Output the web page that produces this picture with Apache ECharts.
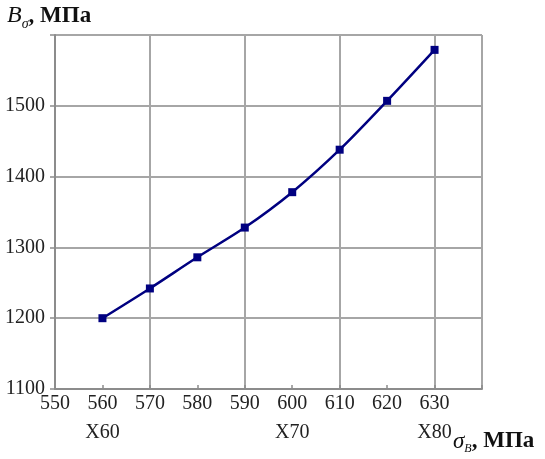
<!DOCTYPE html>
<html><head><meta charset="utf-8">
<script src="https://cdn.jsdelivr.net/npm/echarts@6/dist/echarts.min.js"></script>
<style>html,body{margin:0;padding:0;background:#fff}#c{width:545px;height:459px}</style>
</head><body><div id="c"></div>
<script>
const xValues = [560, 570, 580, 590, 600, 610, 620, 630];
const yValues = [1200, 1242, 1286, 1328, 1378, 1438, 1507, 1579];
const gradeLabels = {560: 'X60', 600: 'X70', 630: 'X80'};
const xMin = 550, xMax = 640, yMin = 1100, yMax = 1600;

const chart = echarts.init(document.getElementById('c'));
const serif = 'Liberation Serif';
const gridColor = '#a6a6a6';
chart.setOption({
  animation: false,
  grid: {left: 55, right: 63, top: 35, bottom: 70},
  xAxis: [{
    type: 'value', min: xMin, max: xMax, interval: 10,
    axisLine: {lineStyle: {color: '#8c8c8c', width: 2}},
    axisTick: {show: true, inside: true, length: 4, lineStyle: {color: '#8c8c8c', width: 1.5}},
    splitLine: {show: false},
    axisLabel: {
      margin: 3, color: '#222', fontFamily: serif, fontSize: 20,
      rich: {
        a: {fontFamily: serif, fontSize: 20, color: '#222', lineHeight: 24},
        b: {fontFamily: serif, fontSize: 20, color: '#222', lineHeight: 34}
      },
      formatter: v => v >= xMax ? '' : ('{a|' + v + '}\n{b|' + (gradeLabels[v] || ' ') + '}')
    }
  }, {
    type: 'value', min: xMin, max: xMax, interval: 20, position: 'bottom',
    axisLine: {show: false}, axisTick: {show: false}, axisLabel: {show: false},
    splitLine: {show: true, lineStyle: {color: gridColor, width: 2}}
  }],
  yAxis: {
    type: 'value', min: yMin, max: yMax, interval: 100,
    axisLine: {show: true, lineStyle: {color: '#8c8c8c', width: 2}},
    axisTick: {show: true, length: 5, lineStyle: {color: '#8c8c8c', width: 1.5}},
    splitLine: {show: true, lineStyle: {color: gridColor, width: 2}},
    axisLabel: {
      margin: 10, color: '#222', fontFamily: serif, fontSize: 20,
      formatter: v => v >= yMax ? '' : String(v)
    }
  },
  graphic: [
    {type: 'text', left: 7, top: 4, style: {
      rich: {
        b: {fontFamily: serif, fontStyle: 'italic', fontSize: 24, fill: '#111'},
        s: {fontFamily: serif, fontStyle: 'italic', fontSize: 14, fill: '#111', padding: [16, 0, 0, 0]},
        t: {fontFamily: serif, fontWeight: 'bold', fontSize: 23, fill: '#111'}
      },
      text: '{b|B}{s|σ}{t|, МПа}'
    }},
    {type: 'text', left: 453, top: 430, style: {
      rich: {
        b: {fontFamily: serif, fontStyle: 'italic', fontSize: 23, fill: '#111'},
        s: {fontFamily: serif, fontStyle: 'italic', fontSize: 12, fill: '#111', padding: [14, 0, 0, 0]},
        t: {fontFamily: serif, fontWeight: 'bold', fontSize: 23, fill: '#111'}
      },
      text: '{b|σ}{s|В}{t|, МПа}'
    }}
  ],
  series: [{
    type: 'line', xAxisIndex: 0,
    data: xValues.map((x, i) => [x, yValues[i]]),
    smooth: 0.3,
    symbol: 'rect', symbolSize: 8,
    lineStyle: {color: '#000080', width: 2.5},
    itemStyle: {color: '#000080'}
  }]
});
</script></body></html>
